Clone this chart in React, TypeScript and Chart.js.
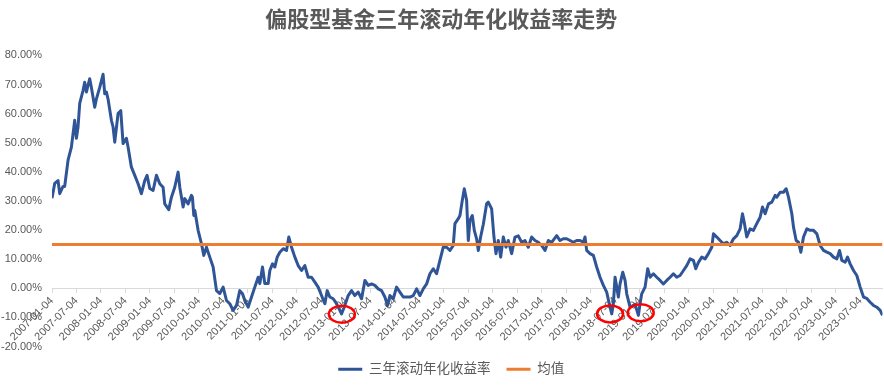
import React, { useEffect, useRef } from "react";
import { Chart, registerables } from "chart.js";

Chart.register(...registerables);

const chartTitle = "偏股型基金三年滚动年化收益率走势";
const seriesName = "三年滚动年化收益率";
const meanName = "均值";
const meanValue = 15.0;

// x tick labels (every half year), position derived from the label date
const tickLabels = [
  "2007-01-04", "2007-07-04", "2008-01-04", "2008-07-04", "2009-01-04", "2009-07-04",
  "2010-01-04", "2010-07-04", "2011-01-04", "2011-07-04", "2012-01-04", "2012-07-04",
  "2013-01-04", "2013-07-04", "2014-01-04", "2014-07-04", "2015-01-04", "2015-07-04",
  "2016-01-04", "2016-07-04", "2017-01-04", "2017-07-04", "2018-01-04", "2018-07-04",
  "2019-01-04", "2019-07-04", "2020-01-04", "2020-07-04", "2021-01-04", "2021-07-04",
  "2022-01-04", "2022-07-04", "2023-01-04", "2023-07-04",
];

// [months since 2007-01-04, rolling 3y annualised return %]
const rollingReturnPoints: [number, number][] = [
  [0.0, 30.9], [0.66, 36], [1.48, 37], [1.89, 32.5], [2.7, 35], [3.11, 35], [3.93, 44],
  [4.75, 48.5], [5.56, 57.7], [5.97, 51.5], [6.38, 55.4], [6.79, 63.5], [7.61, 68],
  [8.01, 70.8], [8.42, 67.4], [9.24, 72], [9.65, 69], [10.47, 62.2], [10.87, 65],
  [11.69, 69], [12.51, 73.5], [12.92, 66.8], [13.33, 67.4], [13.73, 65], [14.55, 57.7],
  [14.96, 55.4], [15.37, 50.2], [16.18, 60], [16.84, 61], [17.41, 49.7], [18.23, 51.5],
  [18.63, 48.5], [19.45, 41.6], [20.27, 38.8], [21.09, 35.9], [21.9, 32.5], [22.72, 37],
  [23.29, 38.8], [23.95, 34.3], [24.76, 33.6], [25.58, 38.8], [26.4, 35.9], [27.21, 34.7],
  [27.62, 29], [28.6, 27], [29.26, 31.3], [30.07, 34.7], [30.89, 39.9], [31.3, 34.7],
  [32.12, 27.9], [32.52, 30.8], [33.34, 29], [34.16, 31.9], [34.4, 31.3], [34.73, 25],
  [34.98, 26.7], [35.79, 19.9], [36.61, 15.3], [37.18, 11.3], [37.84, 14.1], [38.65, 10.7],
  [39.47, 7.3], [40.29, -0.8], [41.1, -1.8], [41.92, 0.4], [42.74, -4.2], [43.55, -5.3],
  [44.37, -7.6], [45.19, -5.9], [46.0, -0.8], [46.66, -1.9], [47.23, -4.2], [48.05, -6.5],
  [48.87, -3.0], [49.68, 0.4], [50.5, 3.8], [50.91, 1.6], [51.56, 7.3], [52.13, 1.6],
  [52.95, 1.6], [53.36, 6.1], [54.01, 8.4], [54.58, 7.3], [55.16, 10.7], [55.81, 12.4],
  [56.63, 13.6], [57.44, 13.0], [58.01, 17.6], [58.67, 14.1], [59.49, 10.7], [60.3, 7.8],
  [61.12, 6.1], [61.94, 7.8], [62.75, 3.8], [63.57, 3.8], [64.39, 2.1], [65.2, 0.4],
  [66.02, -2.5], [66.84, -5.3], [67.41, -0.8], [68.06, -3.0], [68.88, -3.6], [69.7, -5.3],
  [70.51, -7.6], [70.92, -8.8], [71.57, -6.5], [72.55, -2.5], [73.37, -0.8], [74.19, -2.5],
  [75.01, -1.3], [75.83, -3.6], [76.64, 2.7], [77.46, 1.0], [78.28, 1.5], [79.09, 1.0],
  [79.91, -0.2], [80.73, -0.8], [81.54, -3.0], [82.2, -5.9], [82.77, -2.5], [83.59, -3.6],
  [84.4, 0.4], [85.22, -1.3], [86.04, -3.0], [86.85, -3.0], [87.67, -3.0], [88.49, -2.5],
  [89.31, -0.2], [90.12, -2.5], [90.94, -0.2], [91.76, 1.5], [92.57, 5.0], [93.39, 6.7],
  [94.21, 5.0], [95.02, 9.6], [95.84, 14.1], [96.66, 14.1], [97.48, 13.0], [98.29, 14.7],
  [98.7, 22.2], [99.52, 23.9], [99.93, 25.0], [100.5, 30.2], [100.99, 34.2], [101.56, 30.2],
  [101.97, 16.4], [102.38, 23.3], [102.95, 25.0], [103.44, 19.9], [104.01, 17.0], [104.42, 13.0],
  [104.99, 17.6], [105.65, 22], [106.46, 29.0], [106.87, 29.6], [107.69, 27.3], [108.26, 17.6],
  [108.75, 11.9], [109.32, 16.4], [109.9, 10.7], [110.55, 17.6], [111.2, 14.1], [111.77, 16.4],
  [112.59, 11.9], [113.41, 17.6], [114.22, 18.0], [115.04, 15.8], [115.86, 16.4], [116.67, 14.1],
  [117.49, 17.6], [118.31, 16.4], [119.13, 15.8], [119.94, 14.7], [120.76, 13.0], [121.58, 16.4],
  [122.39, 15.8], [123.62, 18.1], [124.44, 16.4], [125.25, 17.0], [126.07, 17.0], [126.89, 16.4],
  [127.7, 15.8], [128.52, 16.4], [129.34, 16.4], [130.15, 15.8], [130.56, 17.6], [130.97, 13.0],
  [131.79, 11.9], [132.61, 11.3], [133.42, 7.3], [134.24, 3.8], [135.06, 1.0], [135.87, -1.3],
  [136.69, -6.5], [137.1, -8.8], [137.51, -5.3], [137.92, 3.8], [138.33, 0.4], [138.73, -3.0],
  [139.14, 1.5], [139.8, 5.5], [140.37, 2.7], [140.78, -1.9], [141.59, -6.5], [142.82, -5.5],
  [143.64, -9.3], [144.04, -5.3], [144.45, -1.9], [145.27, 0.4], [145.92, 6.7], [146.5, 3.8],
  [147.31, 5.0], [148.13, 3.8], [148.95, 2.7], [149.76, 1.5], [150.58, 2.7], [151.4, 3.8],
  [152.21, 5.0], [153.03, 3.8], [153.85, 4.4], [154.67, 6.1], [155.48, 7.8], [156.3, 10.1],
  [157.12, 9.6], [157.69, 6.7], [158.34, 8.9], [159.16, 10.7], [159.98, 10.1], [160.79, 11.9],
  [161.61, 14.1], [162.02, 18.7], [162.84, 17.6], [163.65, 16.4], [164.47, 15.3], [165.29, 15.8],
  [166.1, 14.7], [166.92, 17.0], [167.74, 18.1], [168.55, 20.4], [169.13, 25.6], [169.62, 22.2],
  [170.18, 17.6], [171.0, 20.4], [171.81, 19.9], [172.63, 22.2], [173.45, 24.4], [174.03, 27.9],
  [174.68, 25.6], [175.5, 29.0], [176.32, 29.6], [177.13, 31.9], [177.54, 31.3], [178.36, 33.0],
  [179.17, 33.0], [179.83, 34.2], [180.4, 31.3], [181.22, 25.6], [181.63, 21.0], [182.28, 16.4],
  [182.85, 15.8], [183.43, 12.4], [184.08, 17.6], [184.9, 20.4], [185.71, 19.9], [186.53, 19.9],
  [187.35, 18.7], [188.16, 14.7], [188.98, 13.0], [189.8, 12.4], [190.61, 11.9], [191.43, 10.7],
  [192.25, 10.1], [192.9, 13.0], [193.47, 9.6], [194.29, 9.0], [194.86, 10.7], [195.51, 8.4],
  [196.33, 6.1], [197.14, 4.4], [197.96, 0.4], [198.78, -3.0], [199.59, -3.5], [200.41, -4.8],
  [201.23, -5.9], [202.04, -6.5], [202.86, -7.6], [203.43, -9.3],
];

// red-circled lows: [months since 2007-01-04, return %]
const highlightedLows: [number, number][] = [
  [71.0, -8.9],
  [136.7, -8.8],
  [144.2, -8.4],
];

const monthOfLabel = (s: string) => {
  const [y, m] = s.split("-").map(Number);
  return (y - 2007) * 12 + (m - 1);
};
const tickMonths = tickLabels.map(monthOfLabel);

const FONT = '"Liberation Sans", "Noto Sans CJK SC", sans-serif';
const TEXT = "#595959";

const highlightPlugin = {
  id: "highlightLows",
  afterLayout(chart: any) {
    // Excel places the legend slightly right of centre
    if (chart.legend) {
      chart.legend.left += 10;
      chart.legend.right += 10;
    }
  },
  afterDraw(chart: any) {
    const { ctx, scales } = chart;
    const xs = scales.x;
    const ys = scales.y;
    ctx.save();
    ctx.strokeStyle = "#FF0000";
    ctx.lineWidth = 2.5;
    highlightedLows.forEach(([m, v]) => {
      const cx = xs.getPixelForValue(m);
      const cy = ys.getPixelForValue(v);
      ctx.beginPath();
      ctx.ellipse(cx, cy, 13, 8.5, 0, 0, Math.PI * 2);
      ctx.stroke();
    });
    ctx.restore();
  },
};

export default function App() {
  const ref = useRef<HTMLCanvasElement | null>(null);

  useEffect(() => {
    document.body.style.margin = "0";
    const canvas = ref.current;
    if (!canvas) return;
    const firstMonth = rollingReturnPoints[0][0];
    const lastMonth = rollingReturnPoints[rollingReturnPoints.length - 1][0];

    const chart = new Chart(canvas, {
      type: "line",
      data: {
        datasets: [
          {
            label: seriesName,
            data: rollingReturnPoints.map(([x, y]) => ({ x, y })),
            borderColor: "#2F5597",
            backgroundColor: "#2F5597",
            borderWidth: 3,
            pointRadius: 0,
            tension: 0,
            borderJoinStyle: "round",
            fill: false,
            order: 1,
          },
          {
            label: meanName,
            data: [
              { x: firstMonth, y: meanValue },
              { x: lastMonth, y: meanValue },
            ],
            borderColor: "#ED7D31",
            backgroundColor: "#ED7D31",
            borderWidth: 3,
            pointRadius: 0,
            fill: false,
            order: 0,
          },
        ],
      },
      options: {
        responsive: false,
        animation: false,
        devicePixelRatio: 1,
        layout: { padding: { left: 0, right: 1.5, top: 0, bottom: 0 } },
        font: { family: FONT },
        plugins: {
          title: {
            display: true,
            text: chartTitle,
            color: TEXT,
            font: { family: FONT, size: 22, weight: "bold" },
            padding: { top: 8, bottom: 21 },
          },
          legend: {
            display: true,
            position: "bottom",
            labels: {
              color: TEXT,
              font: { family: FONT, size: 13.5 },
              boxWidth: 24,
              boxHeight: 3,
              padding: 16,
              sort: (a: any, b: any) => a.datasetIndex - b.datasetIndex,
              generateLabels: (c: any) =>
                (Chart.defaults.plugins.legend.labels.generateLabels as any)(c).map((it: any) => ({
                  ...it,
                  lineWidth: 0,
                  fillStyle: it.strokeStyle,
                })),
            },
          },
          tooltip: { enabled: false },
        },
        scales: {
          x: {
            type: "linear",
            position: { y: 0 } as any,
            min: firstMonth,
            max: lastMonth,
            afterBuildTicks: (scale: any) => {
              scale.ticks = tickMonths.map((value) => ({ value }));
            },
            afterFit: (scale: any) => {
              scale.paddingLeft = 0;
              scale.paddingRight = 0;
            },
            grid: {
              display: true,
              drawOnChartArea: false,
              drawTicks: true,
              tickLength: 4,
              color: "#D9D9D9",
            },
            border: { display: true, color: "#D9D9D9", width: 1 },
            ticks: {
              autoSkip: false,
              maxRotation: 45,
              minRotation: 45,
              padding: 2,
              color: TEXT,
              font: { family: FONT, size: 11 },
              callback: (_v: any, i: number) => tickLabels[i],
            },
          },
          y: {
            type: "linear",
            min: -20,
            max: 80,
            afterFit: (scale: any) => {
              scale.width = 52;
            },
            grid: { display: false, drawTicks: false },
            border: { display: false },
            ticks: {
              stepSize: 10,
              padding: 10,
              color: TEXT,
              font: { family: FONT, size: 11 },
              callback: (v: any) => Number(v).toFixed(2) + "%",
            },
          },
        },
      } as any,
      plugins: [highlightPlugin],
    });
    return () => chart.destroy();
  }, []);

  return (
    <div style={{ width: 884, height: 386, position: "relative", background: "#fff" }}>
      <canvas ref={ref} width={884} height={386} style={{ display: "block", width: 884, height: 386 }} />
    </div>
  );
}
